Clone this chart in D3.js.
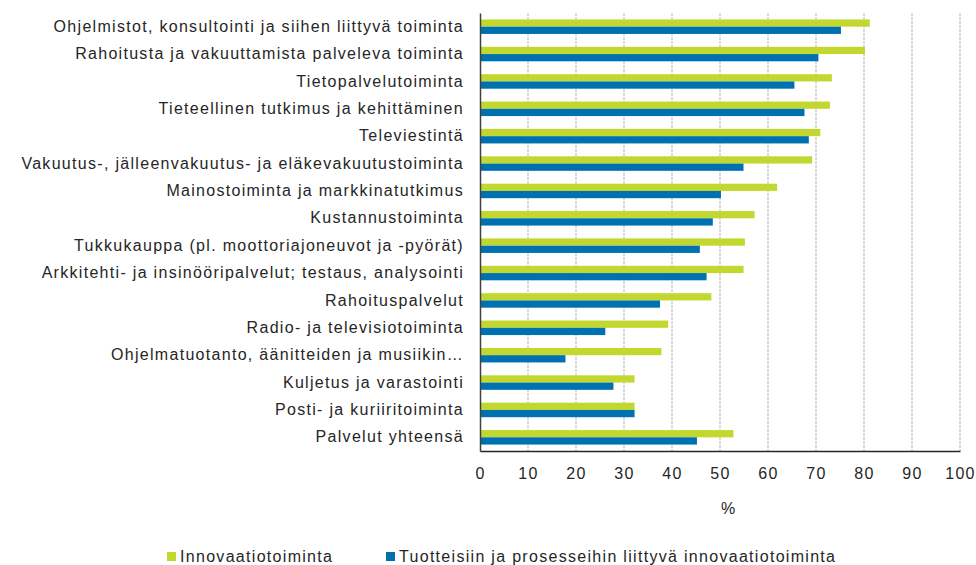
<!DOCTYPE html>
<html>
<head>
<meta charset="utf-8">
<script src="https://cdn.jsdelivr.net/npm/d3@7"></script>
<style>
  body { margin: 0; background: #fff; }
  text { font-family: "Liberation Sans", Arial, sans-serif; fill: #262626; }
</style>
</head>
<body>
<div id="chart"></div>
<script>
const categories = [
  "Ohjelmistot, konsultointi ja siihen liittyvä toiminta",
  "Rahoitusta ja vakuuttamista palveleva toiminta",
  "Tietopalvelutoiminta",
  "Tieteellinen tutkimus ja kehittäminen",
  "Televiestintä",
  "Vakuutus-, jälleenvakuutus- ja eläkevakuutustoiminta",
  "Mainostoiminta ja markkinatutkimus",
  "Kustannustoiminta",
  "Tukkukauppa (pl. moottoriajoneuvot ja -pyörät)",
  "Arkkitehti- ja insinööripalvelut; testaus, analysointi",
  "Rahoituspalvelut",
  "Radio- ja televisiotoiminta",
  "Ohjelmatuotanto, äänitteiden ja musiikin…",
  "Kuljetus ja varastointi",
  "Posti- ja kuriiritoiminta",
  "Palvelut yhteensä"
];
const innovaatio = [81.2, 80.2, 73.3, 72.9, 70.9, 69.2, 61.9, 57.2, 55.2, 54.9, 48.2, 39.2, 37.8, 32.2, 32.2, 52.8];
const tuotteet   = [75.2, 70.5, 65.5, 67.6, 68.5, 54.9, 50.2, 48.5, 45.8, 47.2, 37.5, 26.1, 17.8, 27.8, 32.2, 45.2];
const seriesNames = ["Innovaatiotoiminta", "Tuotteisiin ja prosesseihin liittyvä innovaatiotoiminta"];
const seriesColors = ["#c2d82f", "#0071b0"];
const xTicks = [0, 10, 20, 30, 40, 50, 60, 70, 80, 90, 100];

const W = 976, H = 565;
const margin = { top: 13, right: 16, bottom: 114, left: 480 };
const width = W - margin.left - margin.right;
const height = H - margin.top - margin.bottom;
const fontSize = "16px";
const spacing = "1.3px";

const svg = d3.select("#chart").append("svg")
  .attr("width", W).attr("height", H);
const g = svg.append("g").attr("transform", `translate(${margin.left},${margin.top})`);

const x = d3.scaleLinear().domain([0, 100]).range([0, width]);
const y = d3.scaleBand().domain(categories).range([0, height]).paddingInner(0.47).paddingOuter(0.235);
const ySub = d3.scaleBand().domain([0, 1]).range([0, y.bandwidth()]);

// gridlines
g.append("g").selectAll("line")
  .data(xTicks.slice(1))
  .join("line")
  .attr("x1", d => x(d)).attr("x2", d => x(d))
  .attr("y1", 0).attr("y2", height)
  .attr("stroke", "#cfcfcf")
  .attr("stroke-width", 1.5)
  .attr("stroke-dasharray", "3,1");

// bars
const rows = categories.map((c, i) => ({ c, vals: [innovaatio[i], tuotteet[i]] }));
const grp = g.append("g").selectAll("g")
  .data(rows)
  .join("g")
  .attr("transform", d => `translate(0,${y(d.c)})`);
grp.selectAll("rect")
  .data(d => d.vals.map((v, k) => ({ v, k })))
  .join("rect")
  .attr("x", x(0))
  .attr("y", d => ySub(d.k))
  .attr("width", d => x(d.v) - x(0))
  .attr("height", ySub.bandwidth())
  .attr("fill", d => seriesColors[d.k]);

// y axis
const yAxis = g.append("g")
  .call(d3.axisLeft(y).tickSize(0).tickPadding(16));
yAxis.select(".domain").attr("stroke", "#404040").attr("stroke-width", 1.5);
yAxis.selectAll("text")
  .style("font-size", fontSize)
  .style("letter-spacing", spacing)
  .style("font-family", "'Liberation Sans', Arial, sans-serif")
  .attr("fill", "#262626");

// x axis
const xAxis = g.append("g")
  .attr("transform", `translate(0,${height})`)
  .call(d3.axisBottom(x).tickValues(xTicks).tickSize(0).tickPadding(17));
xAxis.select(".domain").attr("stroke", "#262626").attr("stroke-width", 1.5);
xAxis.selectAll("text")
  .style("font-size", fontSize)
  .style("letter-spacing", spacing)
  .style("font-family", "'Liberation Sans', Arial, sans-serif")
  .attr("fill", "#262626");

// axis title
svg.append("text")
  .attr("x", margin.left + width / 2 + 8)
  .attr("y", 514)
  .attr("text-anchor", "middle")
  .style("font-size", fontSize)
  .text("%");

// legend
const legendX = [167, 386];
const legend = svg.append("g").selectAll("g")
  .data(seriesNames)
  .join("g")
  .attr("transform", (d, i) => `translate(${legendX[i]},552)`);
legend.append("rect")
  .attr("width", 9).attr("height", 9)
  .attr("fill", (d, i) => seriesColors[i]);
legend.append("text")
  .attr("x", 13).attr("y", 4.5)
  .attr("dy", "0.35em")
  .style("font-size", fontSize)
  .style("letter-spacing", spacing)
  .text(d => d);
</script>
</body>
</html>
